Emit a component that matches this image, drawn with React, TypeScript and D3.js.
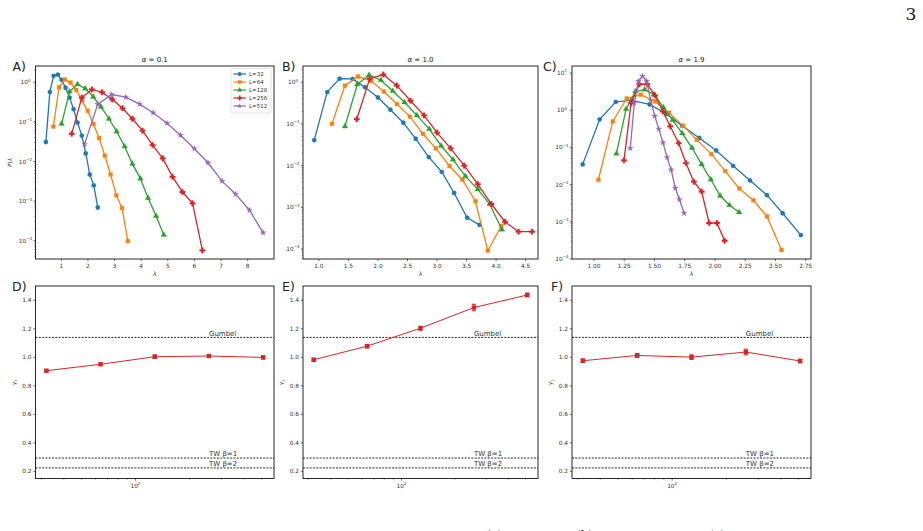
import React from 'react';
import * as d3 from 'd3';

const COLORS = ['#1f77b4', '#ff7f0e', '#2ca02c', '#d62728', '#9467bd'];
const SERIES_LABELS = ['L=32', 'L=64', 'L=128', 'L=256', 'L=512'];
const SIZES = [32, 64, 128, 256, 512];

// Panel A (alpha = 0.1): [lambda, P(lambda)]
const A32: [number, number][] = [[0.42, 0.031], [0.57, 0.57], [0.71, 1.45], [0.87, 1.56], [1.01, 1.15], [1.16, 0.73], [1.31, 0.41], [1.46, 0.21], [1.61, 0.096], [1.77, 0.045], [1.92, 0.016], [2.07, 0.0047], [2.22, 0.0025], [2.37, 0.00069]];
const A64: [number, number][] = [[0.70, 0.076], [0.915, 0.75], [1.13, 1.17], [1.345, 0.98], [1.56, 0.64], [1.775, 0.35], [1.99, 0.19], [2.205, 0.089], [2.42, 0.039], [2.635, 0.014], [2.85, 0.0047], [3.065, 0.0014], [3.28, 0.00067], [3.50, 0.000098]];
const A128: [number, number][] = [[1.01, 0.089], [1.31, 0.58], [1.61, 0.89], [1.90, 0.69], [2.20, 0.43], [2.49, 0.24], [2.79, 0.12], [3.08, 0.057], [3.38, 0.024], [3.67, 0.0087], [3.97, 0.0037], [4.26, 0.0012], [4.56, 0.00042], [4.85, 0.00014]];
const A256: [number, number][] = [[1.39, 0.050], [1.77, 0.41], [2.15, 0.66], [2.53, 0.56], [2.91, 0.37], [3.30, 0.22], [3.67, 0.12], [4.05, 0.060], [4.43, 0.026], [4.81, 0.012], [5.18, 0.0041], [5.55, 0.0017], [5.93, 0.00088], [6.30, 0.000057]];
const A512: [number, number][] = [[1.87, 0.027], [2.37, 0.28], [2.89, 0.49], [3.42, 0.42], [3.94, 0.28], [4.45, 0.17], [4.97, 0.092], [5.48, 0.046], [6.00, 0.021], [6.51, 0.0093], [7.04, 0.0032], [7.55, 0.0015], [8.07, 0.00059], [8.58, 0.00016]];

// Panel B (alpha = 1.0)
const B32: [number, number][] = [[0.92, 0.041], [1.14, 0.58], [1.35, 1.22], [1.57, 1.20], [1.78, 0.76], [2.00, 0.43], [2.21, 0.22], [2.43, 0.107], [2.64, 0.044], [2.86, 0.016], [3.08, 0.0071], [3.29, 0.0022], [3.51, 0.00056], [3.72, 0.00038]];
const B64: [number, number][] = [[1.22, 0.10], [1.44, 0.83], [1.66, 1.37], [1.88, 1.08], [2.10, 0.60], [2.32, 0.30], [2.54, 0.15], [2.76, 0.058], [2.98, 0.026], [3.21, 0.0098], [3.43, 0.0046], [3.65, 0.0014], [3.86, 0.000091], [4.09, 0.00036]];
const B128: [number, number][] = [[1.44, 0.087], [1.65, 0.89], [1.85, 1.5], [2.05, 1.12], [2.25, 0.62], [2.45, 0.33], [2.66, 0.16], [2.87, 0.075], [3.07, 0.030], [3.27, 0.014], [3.48, 0.0056], [3.69, 0.0027], [3.89, 0.0012], [4.10, 0.00029]];
const B256: [number, number][] = [[1.64, 0.13], [1.86, 1.22], [2.09, 1.53], [2.32, 0.83], [2.55, 0.36], [2.78, 0.16], [3.00, 0.062], [3.23, 0.026], [3.46, 0.010], [3.69, 0.0036], [3.92, 0.0012], [4.15, 0.00045], [4.38, 0.00026], [4.61, 0.00026]];

// Panel C (alpha = 1.9)
const C32: [number, number][] = [[0.906, 0.035], [1.047, 0.57], [1.18, 1.68], [1.31, 1.85], [1.46, 1.43], [1.60, 0.79], [1.73, 0.38], [1.87, 0.18], [2.01, 0.083], [2.15, 0.032], [2.29, 0.013], [2.43, 0.0052], [2.56, 0.0017], [2.71, 0.00044]];
const C64: [number, number][] = [[1.036, 0.0135], [1.155, 0.50], [1.27, 2.07], [1.386, 2.63], [1.505, 1.72], [1.62, 0.86], [1.737, 0.38], [1.85, 0.16], [1.97, 0.066], [2.085, 0.023], [2.20, 0.0079], [2.317, 0.0038], [2.43, 0.0014], [2.55, 0.000174]];
const C128: [number, number][] = [[1.185, 0.068], [1.265, 1.07], [1.342, 3.2], [1.42, 3.6], [1.497, 2.64], [1.574, 1.19], [1.65, 0.54], [1.73, 0.24], [1.81, 0.098], [1.89, 0.035], [1.966, 0.0137], [2.043, 0.0050], [2.12, 0.0028], [2.20, 0.0018]];
const C256: [number, number][] = [[1.248, 0.045], [1.306, 1.55], [1.375, 5.0], [1.44, 5.0], [1.505, 2.48], [1.57, 0.93], [1.63, 0.37], [1.70, 0.13], [1.76, 0.038], [1.825, 0.012], [1.89, 0.0065], [1.952, 0.00093], [2.016, 0.00093], [2.08, 0.00031]];
const C512: [number, number][] = [[1.300, 0.095], [1.333, 1.55], [1.367, 6.0], [1.401, 8.3], [1.434, 6.1], [1.468, 1.9], [1.502, 0.70], [1.536, 0.31], [1.570, 0.135], [1.604, 0.054], [1.638, 0.025], [1.672, 0.0081], [1.706, 0.0040], [1.745, 0.0017]];

// Panels D/E/F: skewness gamma_1 vs L
const GAMMA_D = [0.906, 0.951, 1.004, 1.009, 0.999];
const ERR_D = [0.008, 0.008, 0.012, 0.010, 0.010];
const GAMMA_E = [0.983, 1.078, 1.204, 1.349, 1.437];
const ERR_E = [0.010, 0.012, 0.014, 0.023, 0.013];
const GAMMA_F = [0.976, 1.013, 1.001, 1.037, 0.974];
const ERR_F = [0.012, 0.014, 0.016, 0.020, 0.012];

const REF_LINES = [
  { value: 1.1395, label: 'Gumbel' },
  { value: 0.2935, label: 'TW β=1' },
  { value: 0.2241, label: 'TW β=2' },
];
const GAMMA_TICKS = [0.2, 0.4, 0.6, 0.8, 1.0, 1.2, 1.4];

const A_X_TICKS = [1, 2, 3, 4, 5, 6, 7, 8];
const B_X_TICKS = [1.0, 1.5, 2.0, 2.5, 3.0, 3.5, 4.0, 4.5];
const C_X_TICKS = [1.0, 1.25, 1.5, 1.75, 2.0, 2.25, 2.5, 2.75];

const FONT = 'DejaVu Sans, sans-serif';
const SYMBOLS = [d3.symbolCircle, d3.symbolSquare, d3.symbolTriangle, d3.symbolCross, d3.symbolStar];
const SYMBOL_SIZES = [15, 15, 14, 17, 11];

type Pt = [number, number];

function marker(i: number) {
  return d3.symbol(SYMBOLS[i], SYMBOL_SIZES[i])() as string;
}

function supExp(e: number) {
  return e < 0 ? '−' + Math.abs(e) : String(e);
}

interface TopProps {
  x0: number; x1: number; y0: number; y1: number;
  xDom: [number, number]; yLogDom: [number, number];
  xTicks: number[]; xFmt: (v: number) => string;
  series: Pt[][]; title: string; letter: string; letterX: number;
  ylabel?: boolean; legend?: boolean;
}

function TopPanel(p: TopProps) {
  const xs = d3.scaleLinear().domain(p.xDom).range([p.x0, p.x1]);
  const ys = d3.scaleLog().domain([Math.pow(10, p.yLogDom[0]), Math.pow(10, p.yLogDom[1])]).range([p.y1, p.y0]);
  const line = d3.line<Pt>().x(d => xs(d[0])).y(d => ys(d[1]));
  const majors: number[] = [];
  for (let e = Math.ceil(p.yLogDom[0]); e <= Math.floor(p.yLogDom[1]); e++) majors.push(e);
  const minors: number[] = [];
  for (let e = Math.floor(p.yLogDom[0]); e <= Math.ceil(p.yLogDom[1]); e++) {
    for (let j = 2; j <= 9; j++) {
      const v = j * Math.pow(10, e);
      const lv = Math.log10(v);
      if (lv > p.yLogDom[0] && lv < p.yLogDom[1]) minors.push(v);
    }
  }
  const clipId = 'clip' + p.letter;
  return (
    <g fontFamily={FONT}>
      <defs>
        <clipPath id={clipId}><rect x={p.x0} y={p.y0} width={p.x1 - p.x0} height={p.y1 - p.y0} /></clipPath>
      </defs>
      <text x={p.letterX} y={71} fontSize={12.5} fill="#222">{p.letter}</text>
      <text x={(p.x0 + p.x1) / 2} y={61.5} fontSize={7} textAnchor="middle" fill="#222">
        <tspan fontStyle="italic">α</tspan> = {p.title}
      </text>
      <g clipPath={`url(#${clipId})`}>
        {p.series.map((s, i) => (
          <g key={i}>
            <path d={line(s) as string} fill="none" stroke={COLORS[i]} strokeWidth={1.3} />
            {s.map((d, k) => (
              <path key={k} d={marker(i)} transform={`translate(${xs(d[0])},${ys(d[1])})`} fill={COLORS[i]} stroke={COLORS[i]} strokeWidth={0.3} />
            ))}
          </g>
        ))}
      </g>
      <rect x={p.x0} y={p.y0} width={p.x1 - p.x0} height={p.y1 - p.y0} fill="none" stroke="#111" strokeWidth={0.9} />
      {p.xTicks.map(t => (
        <g key={t}>
          <line x1={xs(t)} x2={xs(t)} y1={p.y1} y2={p.y1 + 2.2} stroke="#111" strokeWidth={0.6} />
          <text x={xs(t)} y={p.y1 + 9} fontSize={5.8} textAnchor="middle" fill="#333">{p.xFmt(t)}</text>
        </g>
      ))}
      <text x={(p.x0 + p.x1) / 2} y={p.y1 + 17} fontSize={6} textAnchor="middle" fontStyle="italic" fill="#333">λ</text>
      {minors.map((v, k) => (
        <line key={k} x1={p.x0} x2={p.x0 - 1.3} y1={ys(v)} y2={ys(v)} stroke="#111" strokeWidth={0.4} />
      ))}
      {majors.map(e => (
        <g key={e}>
          <line x1={p.x0} x2={p.x0 - 2.2} y1={ys(Math.pow(10, e))} y2={ys(Math.pow(10, e))} stroke="#111" strokeWidth={0.6} />
          <text x={p.x0 - 10} y={ys(Math.pow(10, e)) + 2} fontSize={5.8} textAnchor="middle" fill="#333">
            10<tspan fontSize={4} dy={-2.6}>{supExp(e)}</tspan>
          </text>
        </g>
      ))}
      {p.ylabel && (
        <text transform={`translate(${p.x0 - 24},${(p.y0 + p.y1) / 2}) rotate(-90)`} fontSize={5.8} textAnchor="middle" fill="#333">
          <tspan fontStyle="italic">P</tspan>(<tspan fontStyle="italic">λ</tspan>
        </text>
      )}
      {p.legend && (
        <g>
          <rect x={231} y={68.5} width={40} height={44.5} fill="white" stroke="#d0d0d0" strokeWidth={0.6} rx={1.2} />
          {SERIES_LABELS.map((lab, i) => {
            const yy = 74 + i * 8;
            return (
              <g key={lab}>
                <line x1={233.5} x2={246} y1={yy} y2={yy} stroke={COLORS[i]} strokeWidth={1.2} />
                <path d={d3.symbol(SYMBOLS[i], SYMBOL_SIZES[i] * 0.8)() as string} transform={`translate(239.7,${yy})`} fill={COLORS[i]} />
                <text x={249} y={yy + 2} fontSize={5.5} fill="#333">{lab}</text>
              </g>
            );
          })}
        </g>
      )}
    </g>
  );
}

interface BotProps {
  x0: number; x1: number; y0: number; y1: number;
  gamma: number[]; err: number[]; letter: string; letterX: number; id: string;
}

function BottomPanel(p: BotProps) {
  const xs = d3.scaleLog().domain([32 / Math.pow(2, 0.2), 512 * Math.pow(2, 0.2)]).range([p.x0, p.x1]);
  const ys = d3.scaleLinear().domain([0.15, 1.5]).range([p.y1, p.y0]);
  const pts: Pt[] = SIZES.map((L, i) => [L, p.gamma[i]]);
  const line = d3.line<Pt>().x(d => xs(d[0])).y(d => ys(d[1]));
  const minorX = [30, 40, 50, 60, 70, 80, 90, 200, 300, 400, 500].filter(v => v > xs.domain()[0] && v < xs.domain()[1]);
  const red = COLORS[3];
  return (
    <g fontFamily={FONT}>
      <text x={p.letterX} y={291} fontSize={12.5} fill="#222">{p.letter}</text>
      {REF_LINES.map(r => (
        <g key={r.label}>
          <line x1={p.x0} x2={p.x1} y1={ys(r.value)} y2={ys(r.value)} stroke="#111" strokeWidth={0.9} strokeDasharray="2,1.3" />
          <text x={xs(256)} y={ys(r.value) - 1.6} fontSize={7} fill="#333">{r.label}</text>
        </g>
      ))}
      <path d={line(pts) as string} fill="none" stroke={red} strokeWidth={1} />
      {pts.map((d, i) => {
        const cx = xs(d[0]);
        const yt = ys(d[1] + p.err[i]);
        const yb = ys(d[1] - p.err[i]);
        return (
          <g key={i}>
            <line x1={cx} x2={cx} y1={yt} y2={yb} stroke={red} strokeWidth={1} />
            <line x1={cx - 2.2} x2={cx + 2.2} y1={yt} y2={yt} stroke={red} strokeWidth={1} />
            <line x1={cx - 2.2} x2={cx + 2.2} y1={yb} y2={yb} stroke={red} strokeWidth={1} />
            <rect x={cx - 2.2} y={ys(d[1]) - 2.2} width={4.4} height={4.4} fill={red} />
          </g>
        );
      })}
      <rect x={p.x0} y={p.y0} width={p.x1 - p.x0} height={p.y1 - p.y0} fill="none" stroke="#111" strokeWidth={0.9} />
      {GAMMA_TICKS.map(t => (
        <g key={t}>
          <line x1={p.x0} x2={p.x0 - 2.2} y1={ys(t)} y2={ys(t)} stroke="#111" strokeWidth={0.6} />
          <text x={p.x0 - 4} y={ys(t) + 2} fontSize={5.8} textAnchor="end" fill="#333">{t.toFixed(1)}</text>
        </g>
      ))}
      {minorX.map(v => (
        <line key={v} x1={xs(v)} x2={xs(v)} y1={p.y1} y2={p.y1 + 1.3} stroke="#111" strokeWidth={0.4} />
      ))}
      <line x1={xs(100)} x2={xs(100)} y1={p.y1} y2={p.y1 + 2.2} stroke="#111" strokeWidth={0.6} />
      <text x={xs(100)} y={p.y1 + 9} fontSize={5.8} textAnchor="middle" fill="#333">10<tspan fontSize={4} dy={-2.6}>2</tspan></text>
      <text transform={`translate(${p.x0 - 20},${(p.y0 + p.y1) / 2}) rotate(-90)`} fontSize={5.8} textAnchor="middle" fill="#333">
        <tspan fontStyle="italic">γ</tspan><tspan fontSize={4.2} dy={1.5}>1</tspan>
      </text>
    </g>
  );
}

export default function App() {
  return (
    <svg width={923} height={531} style={{ position: 'absolute', left: 0, top: 0, background: 'white' }}>
      <rect width={923} height={531} fill="white" />
      <text x={911} y={20} fontSize={17} textAnchor="middle" fontFamily="DejaVu Serif, serif" fill="#111">3</text>
      <TopPanel x0={35.5} x1={274} y0={66} y1={259} xDom={[0.03, 8.99]} yLogDom={[-4.46, 0.41]}
        xTicks={A_X_TICKS} xFmt={v => String(v)} series={[A32, A64, A128, A256, A512]}
        title="0.1" letter="A)" letterX={12.5} ylabel legend />
      <TopPanel x0={303} x1={538} y0={66} y1={259} xDom={[0.73, 4.71]} yLogDom={[-4.24, 0.39]}
        xTicks={B_X_TICKS} xFmt={v => v.toFixed(1)} series={[B32, B64, B128, B256]}
        title="1.0" letter="B)" letterX={282} />
      <TopPanel x0={572} x1={811} y0={66} y1={259} xDom={[0.818, 2.794]} yLogDom={[-4.0, 1.19]}
        xTicks={C_X_TICKS} xFmt={v => v.toFixed(2)} series={[C32, C64, C128, C256, C512]}
        title="1.9" letter="C)" letterX={543} />
      <BottomPanel id="D" x0={35.5} x1={274} y0={286} y1={478.5} gamma={GAMMA_D} err={ERR_D} letter="D)" letterX={12} />
      <BottomPanel id="E" x0={303} x1={538} y0={286} y1={478.5} gamma={GAMMA_E} err={ERR_E} letter="E)" letterX={282} />
      <BottomPanel id="F" x0={572} x1={811} y0={286} y1={478.5} gamma={GAMMA_F} err={ERR_F} letter="F)" letterX={551} />
      <g fontFamily="DejaVu Serif, serif" fontSize={12} fill="#111">
        <text x={486} y={540}>(a)</text>
        <text x={576} y={540}>(b)</text>
        <text x={709} y={540}>(c)</text>
      </g>
    </svg>
  );
}
